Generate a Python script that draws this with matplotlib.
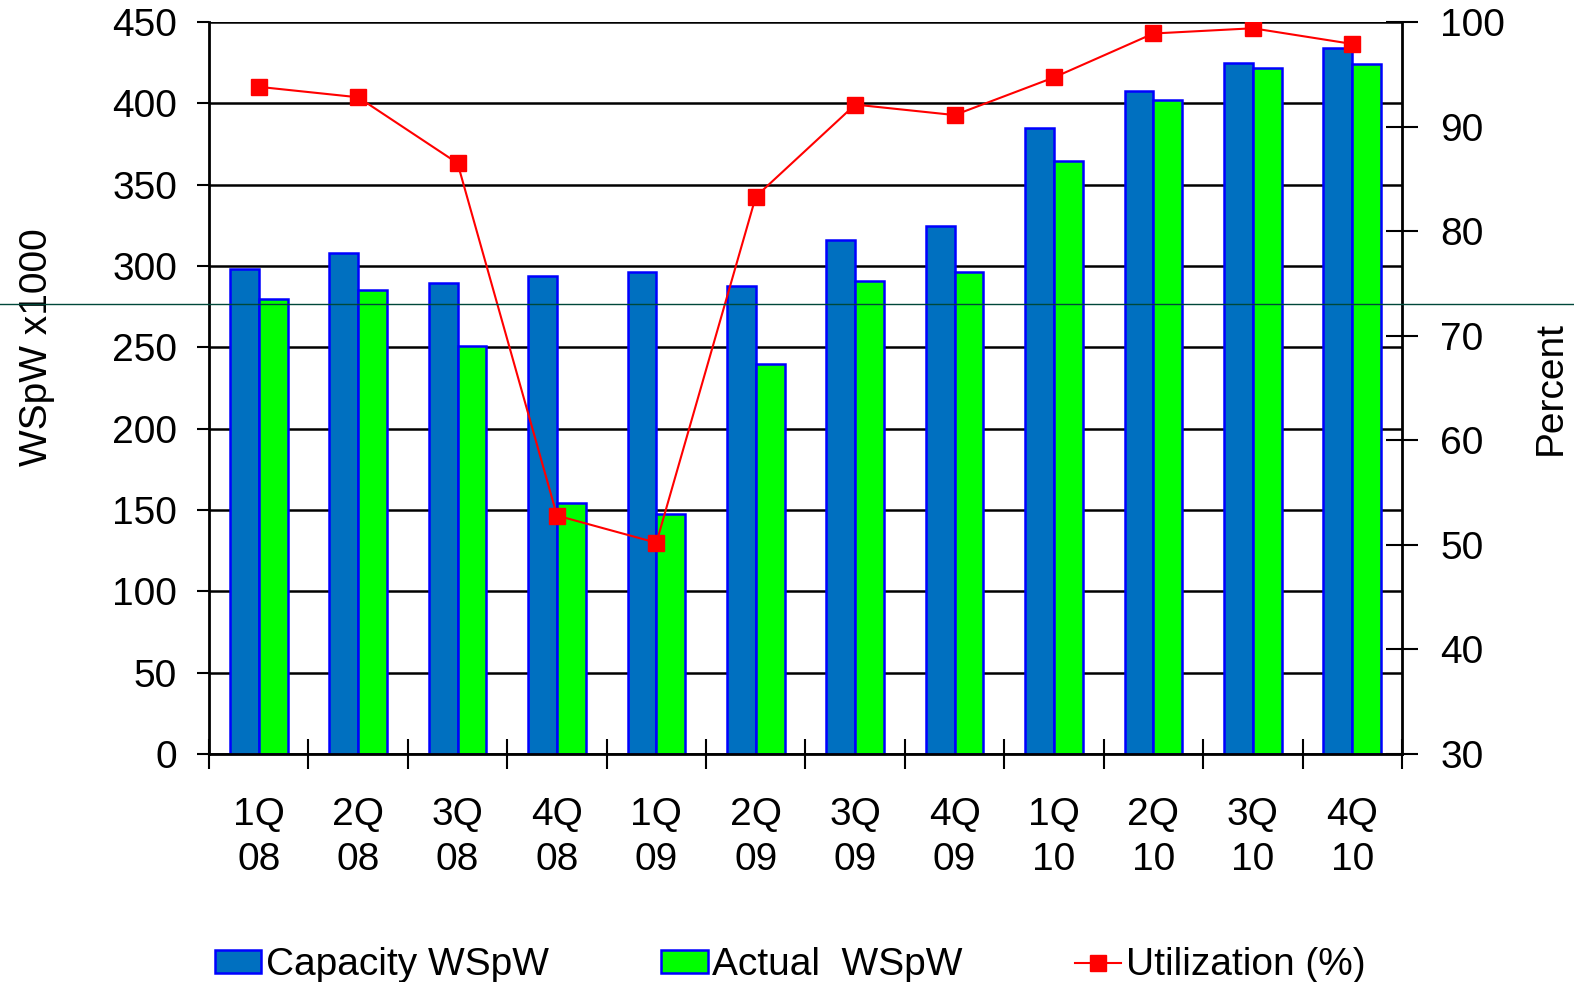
import numpy as np
import matplotlib
matplotlib.use("Agg")
import matplotlib.pyplot as plt
from matplotlib.lines import Line2D

plt.rcParams['font.family'] = ['Liberation Sans', 'DejaVu Sans']

quarters = ["1Q\n08", "2Q\n08", "3Q\n08", "4Q\n08", "1Q\n09", "2Q\n09",
            "3Q\n09", "4Q\n09", "1Q\n10", "2Q\n10", "3Q\n10", "4Q\n10"]
capacity = [298, 308, 289.5, 294, 296, 288, 316, 324.5, 385, 407.5, 425, 434]
actual = [279.5, 285, 251, 154, 147.5, 240, 291, 296, 364.5, 402, 422, 424]
utilization = [93.8, 92.8, 86.5, 52.8, 50.2, 83.3, 92.1, 91.1, 94.7, 98.9, 99.4, 97.9]

FS = 28
blue = "#0070C0"
green = "#00FF00"
edge = "#0000FF"

fig = plt.figure(figsize=(15.74, 9.82), dpi=100)
ax = fig.add_axes([0.1328, 0.2322, 0.7579, 0.7454])

x = np.arange(len(quarters))
w = 0.29
ax.bar(x - w / 2, capacity, w, color=blue, edgecolor=edge, linewidth=1.8,
       label="Capacity WSpW", zorder=2)
ax.bar(x + w / 2, actual, w, color=green, edgecolor=edge, linewidth=1.8,
       label="Actual  WSpW", zorder=2)

ax.set_xlim(-0.5, len(quarters) - 0.5)
ax.set_ylim(0, 450)
ax.set_yticks(np.arange(0, 451, 50))
ax.yaxis.grid(True, color="black", linewidth=1.8)
ax.set_axisbelow(True)
for s in ["top", "right"]:
    ax.spines[s].set_visible(False)
ax.spines["left"].set_linewidth(2)
ax.spines["bottom"].set_linewidth(2)

# boundaries get the tick marks, centres get the labels
ax.set_xticks(np.arange(-0.5, len(quarters), 1))
ax.set_xticklabels([])
ax.set_xticks(x, minor=True)
ax.set_xticklabels(quarters, minor=True, fontsize=FS, linespacing=1.33)
ax.tick_params(axis="x", which="major", direction="inout", length=21, width=1.5)
ax.tick_params(axis="x", which="minor", length=0, pad=31)
ax.tick_params(axis="y", direction="out", length=9, width=1.5, labelsize=FS, pad=14)
ax.set_ylabel("WSpW x1000", fontsize=FS)
ax.yaxis.set_label_coords(-0.129, 0.556)

ax2 = ax.twinx()
ax2.plot(x, utilization, color="red", linewidth=1.5, marker="s", markersize=11,
         label="Utilization (%)", zorder=3)
ax2.set_ylim(30, 100)
ax2.set_yticks(np.arange(30, 101, 10))
ax2.tick_params(axis="y", direction="inout", length=23, width=1.5, labelsize=FS, pad=16)
for s in ["top", "left", "bottom"]:
    ax2.spines[s].set_visible(False)
ax2.spines["right"].set_linewidth(2)
ax2.set_ylabel("Percent", fontsize=FS, labelpad=20)

handles = ax.get_legend_handles_labels()[0] + ax2.get_legend_handles_labels()[0]
labels = ["Capacity WSpW", "Actual  WSpW", "Utilization (%)"]
fig.legend(handles, labels, loc="lower center", bbox_to_anchor=(0.502, -0.037),
           ncol=3, frameon=False, fontsize=FS, handlelength=1.2, handleheight=0.55,
           handletextpad=0.12, columnspacing=2.88)

fig.add_artist(Line2D([0, 1], [0.6904, 0.6904], transform=fig.transFigure,
                      color="#00483A", linewidth=1, zorder=10))

fig.savefig("out.png", dpi=100)
